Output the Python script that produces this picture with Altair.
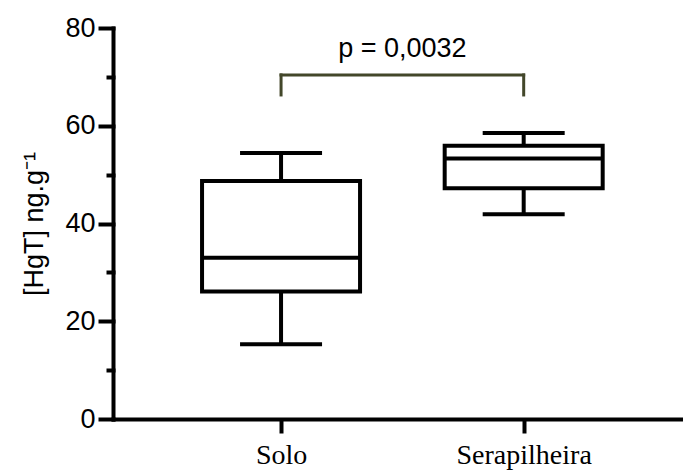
import json
import altair as alt
import pandas as pd

# Box-plot summary per sampling matrix (ng/g)
groups = ["Solo", "Serapilheira"]
whisker_low = [15.3, 41.9]
quartile_1 = [26.1, 47.2]
medians = [33.0, 53.3]
quartile_3 = [48.7, 55.9]
whisker_high = [54.4, 58.5]

# Significance annotation
p_text = "p = 0,0032"
bracket_top = 70.4
bracket_foot = 66.3
p_label_y = 74.1

positions = [i + 1 for i in range(len(groups))]

boxes = pd.DataFrame({
    "group": groups,
    "pos": positions,
    "lower": whisker_low,
    "q1": quartile_1,
    "median": medians,
    "q3": quartile_3,
    "upper": whisker_high,
})

legs = pd.DataFrame({"pos": positions, "foot": [bracket_foot] * 2, "top": [bracket_top] * 2})
bar_top = pd.DataFrame({"x1": [positions[0]], "x2": [positions[-1]], "top": [bracket_top]})
p_label = pd.DataFrame({"pos": [sum(positions) / len(positions)], "y": [p_label_y], "text": [p_text]})

INK = "black"
BRACKET = "#43472a"
LW = 4

x_scale = alt.Scale(domain=[0.328, 2.636], nice=False, zero=False)
x_axis = alt.Axis(
    values=positions,
    labelExpr=f"{json.dumps(groups)}[datum.value - 1]",
    title=None,
    grid=False,
    domainColor=INK,
    domainWidth=LW,
    domainCap="square",
    tickColor=INK,
    tickWidth=LW,
    tickSize=14,
    labelFont="Liberation Serif",
    labelFontSize=28,
    labelColor=INK,
    labelBaseline="alphabetic",
    labelPadding=30,
)

y_scale = alt.Scale(domain=[0, 80], nice=False)
y_axis = alt.Axis(
    values=list(range(0, 81, 10)),
    labelExpr="datum.value % 20 === 0 ? datum.label : ''",
    title="[HgT] ng.g⁻¹",
    titleFont="Liberation Sans",
    titleFontSize=27,
    titleFontWeight="normal",
    titleColor=INK,
    titlePadding=16,
    grid=False,
    domainColor=INK,
    domainWidth=LW,
    domainCap="square",
    tickColor=INK,
    tickWidth=LW,
    tickCap="square",
    tickSize={"condition": {"test": "datum.value % 20 === 0", "value": 13}, "value": 5},
    labelFont="Liberation Sans",
    labelFontSize=27,
    labelColor=INK,
    labelPadding=5,
)


def X(field):
    return alt.X(field, type="quantitative", scale=x_scale, axis=x_axis)


def Y(field):
    return alt.Y(field, type="quantitative", scale=y_scale, axis=y_axis)


base = alt.Chart(boxes)
solid = dict(color=INK, opacity=1)

lower_whisker = base.mark_rule(strokeWidth=LW, **solid).encode(x=X("pos"), y=Y("lower"), y2="q1")
upper_whisker = base.mark_rule(strokeWidth=LW, **solid).encode(x=X("pos"), y=Y("q3"), y2="upper")
low_cap = base.mark_tick(orient="horizontal", size=82, thickness=LW, **solid).encode(x=X("pos"), y=Y("lower"))
high_cap = base.mark_tick(orient="horizontal", size=82, thickness=LW, **solid).encode(x=X("pos"), y=Y("upper"))
box = base.mark_bar(size=158, fill="white", stroke=INK, strokeWidth=LW, opacity=1).encode(
    x=X("pos"), y=Y("q1"), y2="q3"
)
median_line = base.mark_tick(orient="horizontal", size=158, thickness=LW, **solid).encode(x=X("pos"), y=Y("median"))

bracket_legs = alt.Chart(legs).mark_rule(color=BRACKET, strokeWidth=3, strokeCap="square").encode(
    x=X("pos"), y=Y("foot"), y2="top"
)
bracket_bar = alt.Chart(bar_top).mark_rule(color=BRACKET, strokeWidth=3, strokeCap="square").encode(
    x=X("x1"), x2="x2", y=Y("top")
)
p_mark = alt.Chart(p_label).mark_text(
    font="Liberation Sans", fontSize=27, color=INK, align="center", baseline="alphabetic"
).encode(x=X("pos"), y=Y("y"), text="text:N")

chart = (
    alt.layer(
        lower_whisker, upper_whisker, low_cap, high_cap, box, median_line,
        bracket_legs, bracket_bar, p_mark,
    )
    .properties(
        width=570,
        height=391,
        autosize=alt.AutoSizeParams(type="none"),
        padding={"left": 113, "top": 28, "right": 0, "bottom": 52},
        background="white",
    )
    .configure_view(stroke=None)
)

chart.save("out.html", embed_options={"renderer": "svg", "actions": False})
